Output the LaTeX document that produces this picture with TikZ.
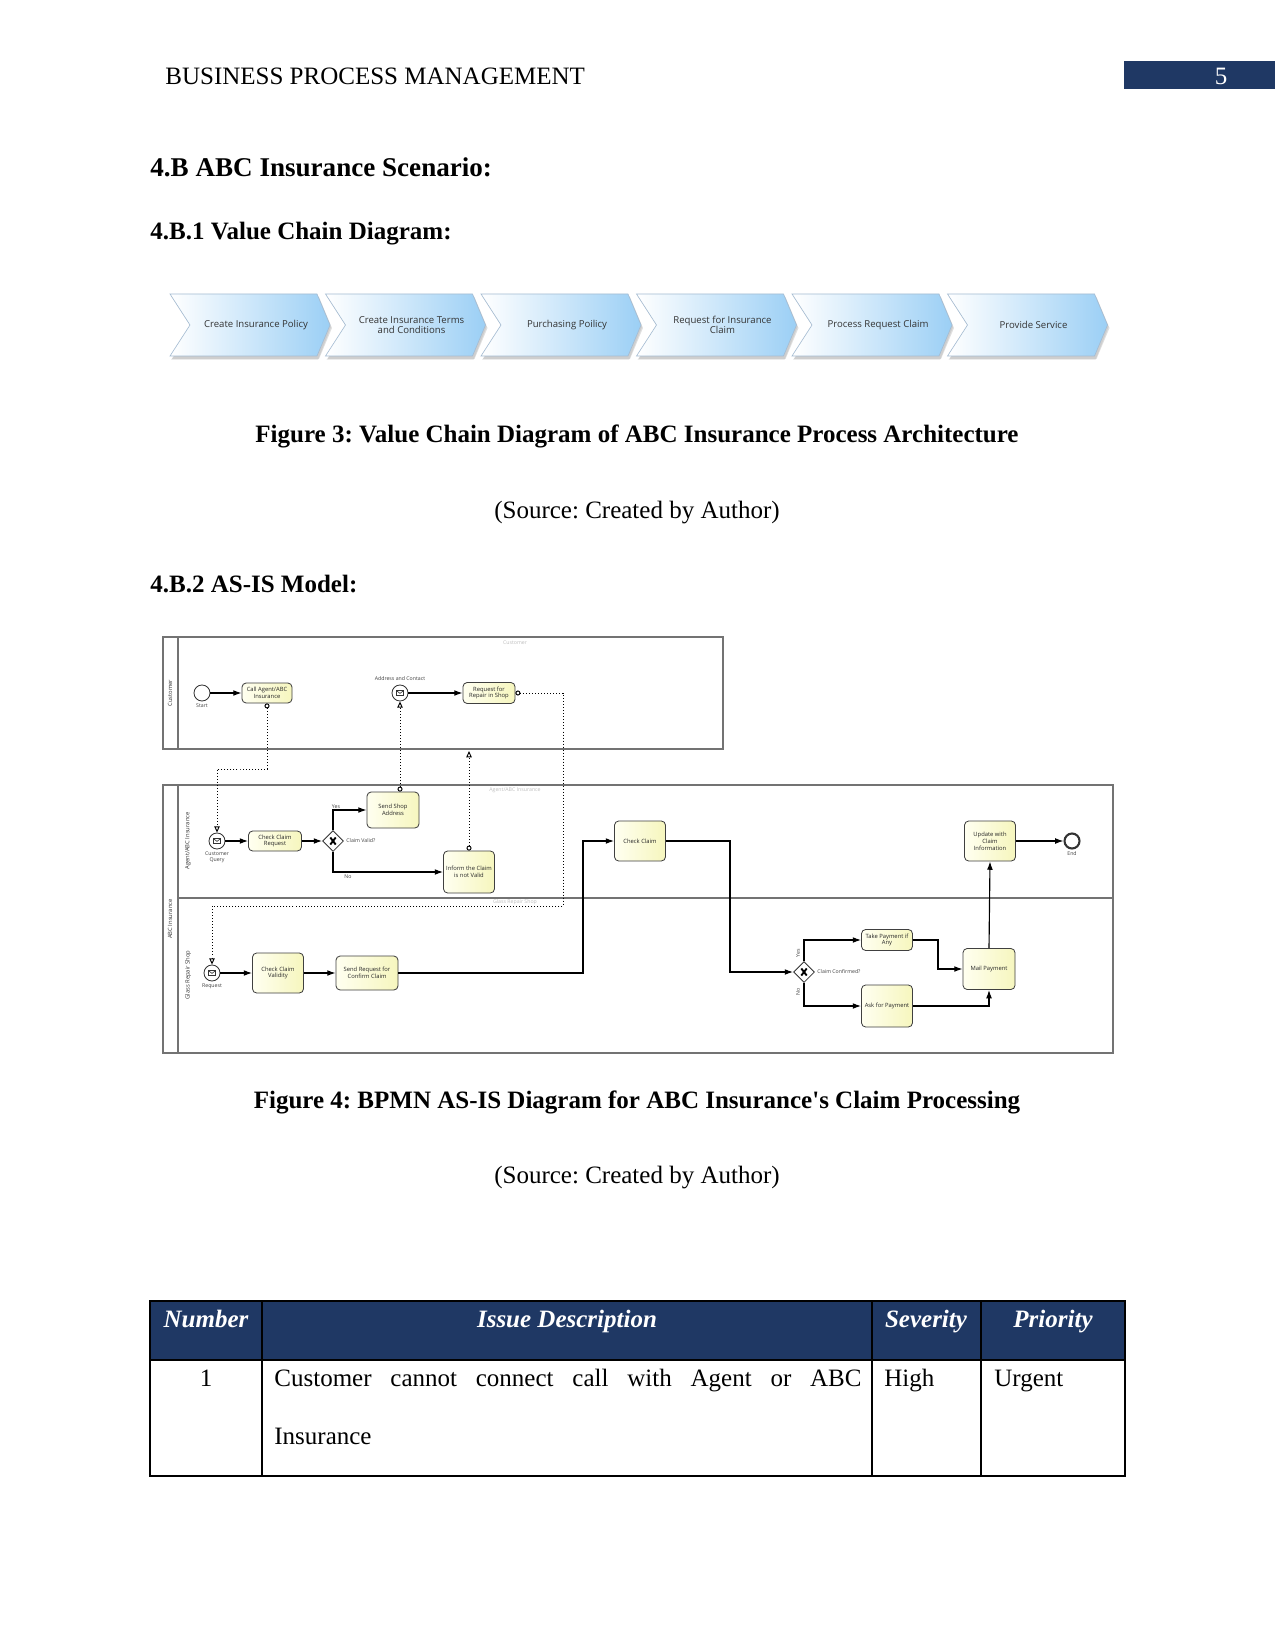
\documentclass[tikz,border=0pt]{standalone}
\usepackage{fontspec}
\setmainfont{Liberation Serif}
\newfontfamily\nomap{Liberation Serif}[Ligatures=TeXOff]
\newfontfamily\osans{Open Sans}
\usetikzlibrary{arrows.meta,shapes.geometric}
\frenchspacing
\newcommand\pxu{0.48pt}
\definecolor{navy}{RGB}{31,56,100}
\definecolor{vcblue}{RGB}{155,207,245}
\definecolor{vcedge}{RGB}{165,188,210}
\definecolor{taskA}{RGB}{255,255,240}
\definecolor{taskB}{RGB}{246,246,190}
\begin{document}
\begin{tikzpicture}[x=0.48pt,y=-0.48pt,
 task/.style={draw=black!75, line width=0.4pt, rounded corners=2pt, left color=taskA, right color=taskB, align=center, inner sep=0pt, font=\osans\fontsize{2.8}{3.3}\selectfont, text=black!85},
 evt/.style={circle, draw=black!80, line width=0.4pt, fill=white, minimum size=16*\pxu, inner sep=0pt},
 gw/.style={diamond, draw=black!80, line width=0.4pt, fill=white, minimum size=21*\pxu, inner sep=0pt},
 lbl/.style={font=\osans\fontsize{2.5}{2.9}\selectfont, text=black!75, inner sep=0pt, align=center},
 plbl/.style={font=\osans\fontsize{2.8}{3.2}\selectfont, text=black!80, inner sep=0pt, rotate=90},
 faint/.style={font=\osans\fontsize{2.5}{2.9}\selectfont, text=black!25, inner sep=0pt},
 seq/.style={line width=0.55pt, -{Latex[length=4pt,width=2.8pt]}},
 msg/.style={line width=0.45pt, densely dotted, {Circle[open,length=2.4pt,width=2.4pt]}-{Triangle[open,length=3pt,width=2.6pt]}},
 pool/.style={draw=black!55, line width=0.5pt},
 txt/.style={font=\fontsize{12}{14}\selectfont, inner sep=0pt, anchor=base},
 btxt/.style={txt, font=\fontsize{12}{14}\selectfont\bfseries},
 htxt/.style={txt, font=\fontsize{12}{14}\selectfont\bfseries\itshape, text=white},
 vctext/.style={font=\osans\fontsize{4.6}{5}\selectfont, text=black!80, align=center, inner sep=0pt}
]
\useasboundingbox (0,0) rectangle (1275,1650);
\fill[white] (0,0) rectangle (1275,1650);

% ---------- page header ----------
\node[txt, anchor=base west] (hdr) at (165,85) {BUSINESS PROCESS MANAGEMENT};
\fill[navy] (1124,61) rectangle (1275,89);
\node[txt, text=white] (pgno) at (1221,85) {5};

% ---------- headings ----------
\node[btxt, anchor=base west, font=\fontsize{13}{15}\selectfont\bfseries] (h1) at (150,177) {4.B ABC Insurance Scenario:};
\node[btxt, anchor=base west] (h2) at (150,240) {4.B.1 Value Chain Diagram:};

% ---------- value chain ----------
\foreach \i/\t in {0/{Create Insurance Policy},1/{Create Insurance Terms\\and Conditions},2/{Purchasing Poilicy},3/{Request for Insurance\\Claim},4/{Process Request Claim},5/{Provide Service}}{
  \pgfmathsetmacro\xo{170+155.5*\i}
  \fill[black, opacity=0.08] (\xo+1,296) -- ++(147,0) -- ++(13,31) -- ++(-13,33) -- ++(-147,0) -- ++(20,-33) -- cycle;
  \fill[black, opacity=0.12] (\xo+2,297) -- ++(147,0) -- ++(13,31) -- ++(-13,31) -- ++(-147,0) -- ++(20,-31) -- cycle;
  \shade[left color=white, right color=vcblue, draw=vcedge, line width=0.3pt] (\xo,294) -- ++(147,0) -- ++(13,31) -- ++(-13,31) -- ++(-147,0) -- ++(20,-31) -- cycle;
  \node[vctext] (vc\i) at (\xo+86,325) {\t};
}

\node[btxt] (cap3) at (637,443) {Figure 3: Value Chain Diagram of ABC Insurance Process Architecture};
\node[txt] (src3) at (637,518) {(Source: Created by Author)};
\node[btxt, anchor=base west] (h3) at (150,592) {4.B.2 AS-IS Model:};

% ---------- BPMN pools ----------
\draw[pool] (163,637) rectangle (723,749);
\draw[pool] (178,637) -- (178,749);
\draw[pool] (163,785) rectangle (1113,1053);
\draw[pool] (178,785) -- (178,1053);
\draw[pool] (178,898) -- (1113,898);

\node[plbl] (plcust) at (170,693) {Customer};
\node[plbl] (plabc) at (170,919) {ABC Insurance};
\node[plbl] (plagent) at (188,841) {Agent/ABC Insurance};
\node[plbl] (plglass) at (188,975) {Glass Repair Shop};
\node[faint] (fcust) at (515,643) {Customer};
\node[faint] (fagent) at (515,790) {Agent/ABC Insurance};
\node[faint] (fglass) at (515,902) {Glass Repair Shop};

% ---------- customer lane ----------
\node[evt] (start) at (202,693) {};
\node[lbl] (startl) at (202,706) {Start};
\node[task, minimum width=50*\pxu, minimum height=20*\pxu] (callagent) at (267,693) {Call Agent/ABC\\Insurance};
\node[evt] (addr) at (400,693) {};
\node[lbl] (addrl) at (400,679) {Address and Contact};
\node[task, minimum width=52*\pxu, minimum height=21*\pxu] (reqrepair) at (489,693) {Request for\\Repair in Shop};

% ---------- agent lane ----------
\node[evt] (custq) at (217,841) {};
\node[lbl] (custql) at (217,857) {Customer\\Query};
\node[task, minimum width=53*\pxu, minimum height=20*\pxu] (checkreq) at (275,841) {Check Claim\\Request};
\node[gw] (gw1) at (333,841) {};
\node[lbl, anchor=west] (gw1l) at (346,841) {Claim Valid?};
\node[lbl] (yes1) at (336,807) {Yes};
\node[lbl] (no1) at (348,877) {No};
\node[task, minimum width=52*\pxu, minimum height=36*\pxu] (sendshop) at (393,810) {Send Shop\\Address};
\node[task, minimum width=51*\pxu, minimum height=42*\pxu] (inform) at (469,872) {Inform the Claim\\is not Valid};
\node[task, minimum width=51*\pxu, minimum height=40*\pxu] (checkclaim) at (640,841) {Check Claim};
\node[task, minimum width=51*\pxu, minimum height=40*\pxu] (update) at (990,841) {Update with\\Claim\\Information};
\node[evt, line width=1pt, minimum size=15*\pxu] (end) at (1072,841) {};
\node[lbl] (endl) at (1072,854) {End};

% ---------- glass repair lane ----------
\node[evt] (request) at (212,973) {};
\node[lbl] (requestl) at (212,986) {Request};
\node[task, minimum width=51*\pxu, minimum height=40*\pxu] (checkvalid) at (278,973) {Check Claim\\Validity};
\node[task, minimum width=62*\pxu, minimum height=34*\pxu] (sendreq) at (367,973) {Send Request for\\Confirm Claim};
\node[gw] (gw2) at (804,972) {};
\node[lbl, anchor=west] (gw2l) at (817,972) {Claim Confirmed?};
\node[lbl, rotate=90] (yes2) at (798,953) {Yes};
\node[lbl, rotate=90] (no2) at (798,992) {No};
\node[task, minimum width=51*\pxu, minimum height=21*\pxu] (takepay) at (887,940) {Take Payment if\\Any};
\node[task, minimum width=51*\pxu, minimum height=42*\pxu] (askpay) at (887,1006) {Ask for Payment};
\node[task, minimum width=52*\pxu, minimum height=41*\pxu] (mailpay) at (989,969) {Mail Payment};

% envelopes and gateway marks
\foreach \e in {addr,custq,request}{
  \draw[line width=0.3pt, black!80] ([xshift=-1.8pt,yshift=-1.25pt]\e.center) rectangle ([xshift=1.8pt,yshift=1.25pt]\e.center);
  \draw[line width=0.3pt, black!80] ([xshift=-1.8pt,yshift=1.25pt]\e.center) -- ([yshift=-0.2pt]\e.center) -- ([xshift=1.8pt,yshift=1.25pt]\e.center);
}
\foreach \g in {gw1,gw2}{
  \draw[line width=0.9pt] ([xshift=-1.3pt,yshift=-1.7pt]\g.center) -- ([xshift=1.3pt,yshift=1.7pt]\g.center);
  \draw[line width=0.9pt] ([xshift=-1.3pt,yshift=1.7pt]\g.center) -- ([xshift=1.3pt,yshift=-1.7pt]\g.center);
}

% ---------- sequence flows ----------
\draw[seq] (start) -- (callagent);
\draw[seq] (addr) -- (reqrepair);
\draw[seq] (custq) -- (checkreq);
\draw[seq] (checkreq) -- (gw1);
\draw[seq] (gw1.north) |- (sendshop.west);
\draw[seq] (gw1.south) |- (inform.west);
\draw[seq] (request) -- (checkvalid);
\draw[seq] (checkvalid) -- (sendreq);
\coordinate (b1) at (583,900);
\draw[seq] (sendreq.east) -| (b1) |- (checkclaim.west);
\coordinate (b2) at (730,900);
\draw[seq] (checkclaim.east) -| (b2) |- (gw2.west);
\draw[seq] (gw2.north) |- (takepay.west);
\draw[seq] (gw2.south) |- (askpay.west);
\coordinate (b3) at (938,955);
\draw[seq] (takepay.east) -| (b3) |- (mailpay.west);
\draw[seq] (askpay.east) -| (mailpay.south);
\draw[seq] (mailpay.north) -- (update.south);
\draw[seq] (update.east) -- (end.west);

% ---------- message flows ----------
\coordinate (m1) at (240,769);
\draw[msg] (callagent.south) |- (m1) -| (custq.north);
\draw[msg] (addr.south |- sendshop.north) -- (addr.south);
\coordinate (custbot) at (469,751);
\draw[msg] (inform.north) -- (inform.north |- custbot);
\coordinate (m2) at (563,906);
\draw[msg] (reqrepair.east) -| (m2) -| (request.north);

\node[btxt] (cap4) at (637,1108) {Figure 4: BPMN AS-IS Diagram for ABC Insurance{\nomap\bfseries '}s Claim Processing};
\node[txt] (src4) at (637,1183) {(Source: Created by Author)};

% ---------- table ----------
\fill[navy] (150,1301) rectangle (1125,1360);
\draw[line width=0.6pt] (150,1301) rectangle (1125,1476);
\draw[line width=0.6pt] (150,1360) -- (1125,1360);
\foreach \cx in {262,872,981}{\draw[line width=0.6pt] (\cx,1301) -- (\cx,1476);}
\node[htxt] (th1) at (206,1327) {Number};
\node[htxt] (th2) at (567,1327) {Issue Description};
\node[htxt] (th3) at (926,1327) {Severity};
\node[htxt] (th4) at (1053,1327) {Priority};
\node[txt] (td1) at (206,1386) {1};
\node[txt, anchor=base west] (td2) at (274,1386) {\makebox[281.8pt][s]{Customer cannot connect call with Agent or ABC}};
\node[txt, anchor=base west] (td2b) at (274,1444) {Insurance};
\node[txt, anchor=base west] (td3) at (884,1386) {High};
\node[txt, anchor=base west] (td4) at (994,1386) {Urgent};
\end{tikzpicture}
\end{document}
